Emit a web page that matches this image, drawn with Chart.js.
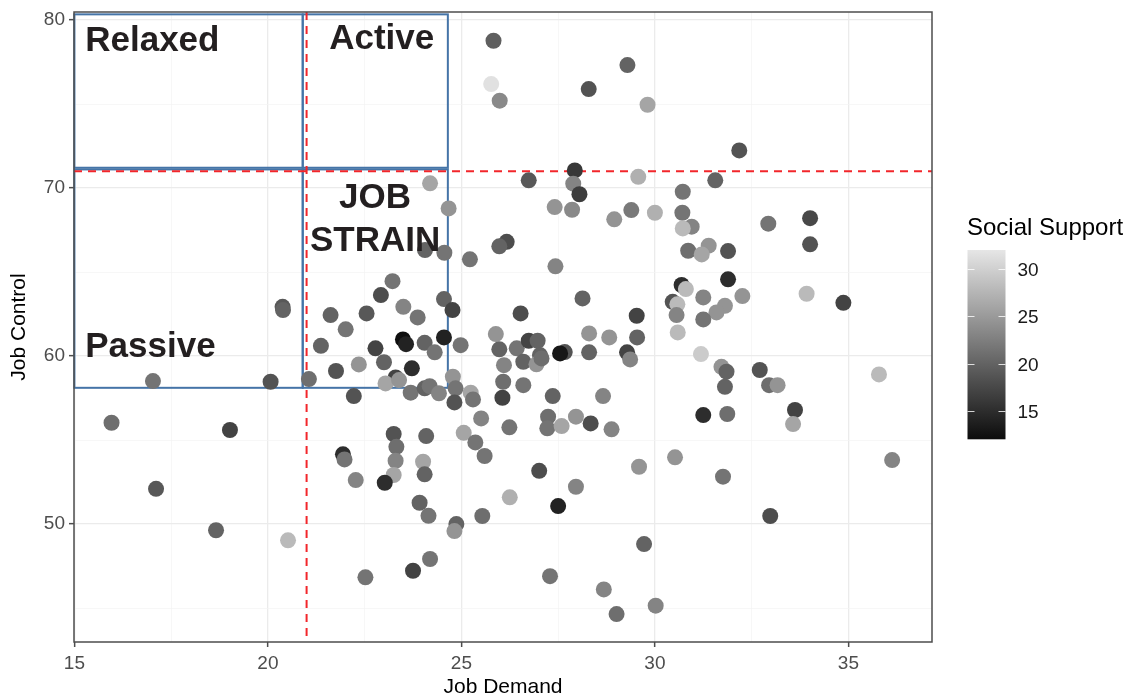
<!DOCTYPE html>
<html>
<head>
<meta charset="utf-8">
<script src="https://cdn.jsdelivr.net/npm/chart.js@4"></script>
<style>
html, body { margin: 0; padding: 0; background: #fff; }
#wrap { width: 1138px; height: 699px; }
</style>
</head>
<body>
<div id="wrap"><canvas id="grafico" width="1138" height="699"></canvas></div>
<script>
// Job demand (x), job control (y) and social support (colour) per respondent
const demand = [
  25.83, 25.77, 25.99, 29.29, 28.29, 29.81, 32.18, 27.93, 26.74, 27.89, 28.05, 29.57, 31.56, 30.72, 27.41, 27.86,
  28.95, 29.39, 30.00, 30.71, 30.95, 30.72, 32.93, 34.01, 34.01, 30.86, 31.39, 31.21, 31.89, 27.43, 26.17, 25.98,
  26.53, 28.13, 29.53, 30.46, 30.58, 30.69, 30.80, 30.56, 31.25, 31.89, 31.81, 31.59, 31.25, 32.26, 33.92, 34.87,
  25.89, 25.98, 26.43, 26.74, 26.97, 27.03, 26.60, 26.94, 27.07, 26.10, 27.67, 27.55, 28.30, 28.30, 28.82, 29.54,
  29.28, 29.36, 30.59, 31.19, 26.08, 26.60, 26.06, 27.36, 28.66, 27.24, 27.22, 27.59, 27.96, 28.34, 28.88, 26.24,
  27.01, 29.59, 30.52, 27.96, 31.25, 31.87, 31.72, 31.85, 31.81, 32.71, 32.95, 33.17, 33.62, 33.57, 35.79, 36.13,
  31.76, 32.98, 29.72, 27.50, 26.25, 27.29, 28.68, 29.01, 30.02,
  17.03, 20.07, 21.06, 15.96, 19.02, 17.11, 18.66, 20.52, 20.38, 20.39, 21.37, 22.01, 21.76, 22.35, 22.78, 23.00,
  23.49, 23.57, 23.72, 24.05, 24.31, 24.55, 24.98, 23.30, 23.04, 23.39, 23.69, 24.05, 24.18, 24.42, 24.78, 24.85,
  24.82, 25.24, 25.30, 25.51, 22.22, 23.25, 23.32, 23.30, 23.25, 24.09, 24.01, 24.05, 25.06, 25.36, 25.60, 21.94,
  21.98, 22.27, 23.02, 23.92, 24.15, 24.87, 24.82, 25.54, 24.19, 23.75, 22.52,
  24.19, 24.67, 24.06, 24.56, 25.22, 23.22, 22.92, 22.55, 21.62, 23.50, 23.87, 24.55, 24.77
];
const control = [
  78.77, 76.19, 75.20, 77.32, 75.89, 74.96, 72.24, 71.05, 70.46, 70.26, 69.63, 70.67, 70.46, 69.78, 68.87, 68.71,
  68.14, 68.69, 68.53, 68.53, 67.70, 67.60, 67.88, 68.21, 66.65, 66.27, 66.57, 66.05, 66.25, 65.34, 66.80, 66.53,
  62.54, 63.43, 62.40, 63.23, 63.08, 64.23, 63.99, 62.44, 63.49, 64.57, 62.99, 62.60, 62.18, 63.57, 63.71, 63.17,
  61.31, 60.40, 60.46, 60.91, 60.91, 60.06, 59.66, 59.51, 59.86, 59.46, 60.24, 60.16, 61.35, 60.22, 61.11, 61.11,
  60.22, 59.80, 61.41, 60.12, 58.47, 58.27, 57.52, 57.62, 57.62, 56.39, 55.70, 55.83, 56.39, 55.99, 55.64, 55.76,
  53.17, 53.41, 53.97, 52.22, 56.49, 56.55, 59.36, 59.07, 58.17, 59.17, 58.27, 58.27, 56.79, 55.95, 58.91, 53.81,
  52.82, 50.48, 48.81, 51.07, 51.59, 46.90, 46.11, 44.64, 45.14,
  58.51, 58.47, 58.63, 56.03, 55.60, 52.10, 49.63, 49.03, 62.93, 62.74, 60.61, 61.59, 59.11, 59.50, 60.46, 59.63,
  60.99, 60.71, 59.27, 60.79, 60.22, 61.11, 60.65, 58.73, 58.37, 58.57, 57.82, 58.08, 58.21, 57.78, 58.77, 58.08,
  57.24, 57.82, 57.42, 56.29, 57.62, 55.36, 54.60, 53.77, 52.92, 55.24, 53.71, 52.96, 55.43, 54.86, 54.05, 54.15,
  53.85, 52.62, 52.46, 51.27, 50.49, 50.00, 49.58, 50.48, 47.92, 47.22, 46.83,
  70.28, 68.79, 66.31, 66.15, 65.76, 64.46, 63.63, 62.54, 62.44, 62.93, 62.30, 63.39, 62.74
];
const support = [
  19.6, 31.5, 23.5, 20, 18.5, 26, 18.5, 16, 19, 23, 16.5, 27, 20, 21.5, 24.5, 23.5,
  24.5, 22, 27, 21.5, 23, 28, 21.5, 17.5, 18.5, 21, 24.5, 26, 18.5, 23, 18, 20,
  18, 20, 17, 18.5, 28, 15, 28, 23, 23, 15, 24.5, 24.5, 21.5, 24.5, 28, 17,
  24.5, 20, 21.5, 17, 20, 20, 20, 24.5, 21, 23, 18.5, 13, 24.5, 20, 24.5, 20,
  17, 23, 28, 29.5, 21, 21.5, 17, 20, 23, 21, 21.5, 26, 24.5, 18, 23, 21.5,
  18, 24.5, 24.5, 23, 15, 21, 24.5, 20, 20, 18.5, 21, 24.5, 17, 26, 28, 23,
  21.5, 18, 20, 14, 27, 21.5, 23, 21, 23,
  21.5, 18.5, 21, 21, 17, 19, 20, 28, 19, 20, 20, 21.5, 18.5, 24.5, 17, 20,
  12.3, 14, 15, 20, 21.5, 14, 21.5, 17, 26, 24.5, 21.5, 20, 21.5, 23, 24.5, 21.5,
  18.5, 26, 21.5, 23, 18.5, 18.5, 21, 23, 26, 20, 26, 20, 26, 21.5, 21.5, 15,
  21.5, 23, 15, 20, 21.5, 20, 24.5, 21, 21.5, 17, 21.5,
  26, 24.5, 20, 21.5, 21.5, 21.5, 18, 19, 20, 23, 21.5, 20, 17
];

const xMajor = [15, 20, 25, 30, 35];
const xMinor = [17.5, 22.5, 27.5, 32.5];
const yMajor = [50, 60, 70, 80];
const yMinor = [45, 55, 65, 75];
const supportTicks = [15, 20, 25, 30];
const supportMin = 12;
const supportMax = 32;

// cut-off lines and the four quadrant boxes
const demandCut = 21;
const controlCut = 71;
const boxes = [
  [15.0, 20.90, 71.21, 80.34],
  [20.90, 24.65, 71.21, 80.34],
  [15.0, 20.90, 58.11, 71.11],
  [20.90, 24.65, 58.11, 71.11]
];
const quadLabels = [
  { lines: ['Relaxed'], x: 15.28, y: 78.15, align: 'left' },
  { lines: ['Active'], x: 22.94, y: 78.27, align: 'center' },
  { lines: ['JOB', 'STRAIN'], x: 22.77, y: 68.83, align: 'center' },
  { lines: ['Passive'], x: 15.28, y: 59.92, align: 'left' }
];

const FONT = '"Liberation Sans", Arial, sans-serif';

function grey(v){
    const t = Math.max(0, Math.min(1, (v - supportMin) / (supportMax - supportMin)));
    const g = Math.round(12 + t * (230 - 12));
    return 'rgb(' + g + ',' + g + ',' + g + ')';
}

function fixTicks(major, minor){
    return function(scale){
        scale.ticks = major.concat(minor).sort(function(a, b){ return a - b; }).map(function(v){ return { value: v }; });
    };
}

const quadrantPlugin = {
    id: 'quadrants',
    beforeDatasetsDraw(chart){
        const ctx = chart.ctx, x = chart.scales.x, y = chart.scales.y, a = chart.chartArea;
        ctx.save();
        ctx.strokeStyle = '#4574a7';
        ctx.lineWidth = 2;
        boxes.forEach(function(b){
            const l = x.getPixelForValue(b[0]), r = x.getPixelForValue(b[1]);
            const t = y.getPixelForValue(b[3]), bt = y.getPixelForValue(b[2]);
            ctx.strokeRect(l, t, r - l, bt - t);
        });
        ctx.strokeStyle = '#f2262b';
        ctx.lineWidth = 2;
        ctx.setLineDash([8, 6]);
        const vx = x.getPixelForValue(demandCut);
        ctx.beginPath(); ctx.moveTo(vx, a.top); ctx.lineTo(vx, a.bottom); ctx.stroke();
        const hy = y.getPixelForValue(controlCut);
        ctx.beginPath(); ctx.moveTo(a.left, hy); ctx.lineTo(a.right, hy); ctx.stroke();
        ctx.restore();
    },
    afterDatasetsDraw(chart){
        const ctx = chart.ctx, x = chart.scales.x, y = chart.scales.y;
        ctx.save();
        ctx.fillStyle = '#231f20';
        ctx.font = 'bold 35px ' + FONT;
        ctx.textBaseline = 'alphabetic';
        quadLabels.forEach(function(q){
            ctx.textAlign = q.align;
            q.lines.forEach(function(txt, i){
                ctx.fillText(txt, x.getPixelForValue(q.x), y.getPixelForValue(q.y) + i * 43);
            });
        });
        ctx.restore();
    },
    afterDraw(chart){
        const ctx = chart.ctx, a = chart.chartArea;
        ctx.save();
        // panel border
        ctx.strokeStyle = '#4d4d4d';
        ctx.lineWidth = 1.5;
        ctx.strokeRect(a.left, a.top, a.right - a.left, a.bottom - a.top);

        // colour bar legend
        const bx = 967.5, bw = 38, btop = 250, bbot = 439.3;
        const toY = function(v){ return bbot - (v - supportMin) / (supportMax - supportMin) * (bbot - btop); };
        const grad = ctx.createLinearGradient(0, bbot, 0, btop);
        for (let i = 0; i <= 10; i++){
            grad.addColorStop(i / 10, grey(supportMin + i / 10 * (supportMax - supportMin)));
        }
        ctx.fillStyle = grad;
        ctx.fillRect(bx, btop, bw, bbot - btop);
        ctx.strokeStyle = 'rgba(255,255,255,0.8)';
        ctx.lineWidth = 1;
        ctx.fillStyle = '#1a1a1a';
        ctx.font = '19px ' + FONT;
        ctx.textAlign = 'left';
        ctx.textBaseline = 'middle';
        supportTicks.forEach(function(v){
            const ty = Math.round(toY(v)) + 0.5;
            ctx.beginPath();
            ctx.moveTo(bx, ty); ctx.lineTo(bx + 7, ty);
            ctx.moveTo(bx + bw - 7, ty); ctx.lineTo(bx + bw, ty);
            ctx.stroke();
            ctx.fillText(String(v), bx + 50, ty + 1);
        });
        ctx.fillStyle = '#000';
        ctx.font = '24px ' + FONT;
        ctx.textBaseline = 'alphabetic';
        ctx.fillText('Social Support', 967, 235);
        ctx.restore();
    }
};

function renderiza_grafico(canva_id){
    const points = demand.map(function(d, i){ return { x: d, y: control[i] }; });
    const ctx = document.getElementById(canva_id).getContext('2d');
    const isMajorX = function(c){ return c.tick && xMajor.includes(c.tick.value); };
    const isMajorY = function(c){ return c.tick && yMajor.includes(c.tick.value); };
    return new Chart(ctx, {
        type: 'scatter',
        data: {
            datasets: [{
                data: points,
                backgroundColor: support.map(grey),
                borderWidth: 0,
                pointRadius: 8,
                pointHoverRadius: 8
            }]
        },
        options: {
            responsive: false,
            animation: false,
            devicePixelRatio: 1,
            layout: { padding: { left: 0, right: 206, top: 12, bottom: 0 } },
            plugins: {
                legend: { display: false },
                tooltip: { enabled: false }
            },
            scales: {
                x: {
                    type: 'linear',
                    min: 14.99,
                    max: 37.16,
                    afterBuildTicks: fixTicks(xMajor, xMinor),
                    afterFit: function(s){ s.height = 57; s.paddingLeft = 0; s.paddingRight = 0; },
                    border: { display: false },
                    grid: {
                        color: function(c){ return isMajorX(c) ? '#ebebeb' : '#f3f3f3'; },
                        lineWidth: function(c){ return isMajorX(c) ? 1.3 : 0.7; },
                        tickColor: function(c){ return isMajorX(c) ? '#4d4d4d' : 'rgba(0,0,0,0)'; },
                        tickLength: 5,
                        tickWidth: 1.5
                    },
                    ticks: {
                        autoSkip: false,
                        maxRotation: 0,
                        padding: 5,
                        color: '#4d4d4d',
                        font: { family: FONT, size: 19 },
                        callback: function(v){ return xMajor.includes(v) ? String(v) : ''; }
                    },
                    title: {
                        display: true,
                        text: 'Job Demand',
                        color: '#000',
                        font: { family: FONT, size: 21, lineHeight: 1.1 },
                        padding: { top: 0, bottom: 0 }
                    }
                },
                y: {
                    type: 'linear',
                    min: 42.98,
                    max: 80.48,
                    afterBuildTicks: fixTicks(yMajor, yMinor),
                    afterFit: function(s){ s.width = 74; s.paddingTop = 0; s.paddingBottom = 0; },
                    border: { display: false },
                    grid: {
                        color: function(c){ return isMajorY(c) ? '#ebebeb' : '#f3f3f3'; },
                        lineWidth: function(c){ return isMajorY(c) ? 1.3 : 0.7; },
                        tickColor: function(c){ return isMajorY(c) ? '#4d4d4d' : 'rgba(0,0,0,0)'; },
                        tickLength: 5,
                        tickWidth: 1.5
                    },
                    ticks: {
                        autoSkip: false,
                        padding: 4,
                        color: '#4d4d4d',
                        font: { family: FONT, size: 19 },
                        callback: function(v){ return yMajor.includes(v) ? String(v) : ''; }
                    },
                    title: {
                        display: true,
                        text: 'Job Control',
                        color: '#000',
                        font: { family: FONT, size: 21 },
                        padding: { top: 7, bottom: 0 }
                    }
                }
            }
        },
        plugins: [quadrantPlugin]
    });
}

renderiza_grafico('grafico');
</script>
</body>
</html>
